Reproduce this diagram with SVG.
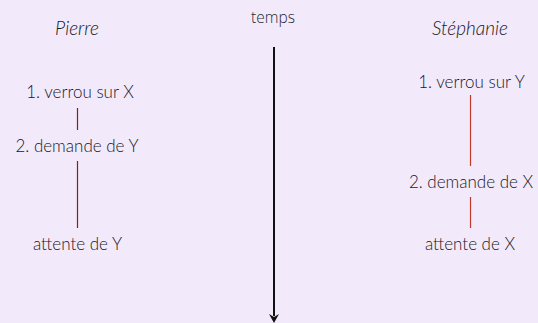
<svg xmlns="http://www.w3.org/2000/svg" width="538" height="323" viewBox="0 0 538 323">
<defs>
<style>
.t{font-family:Lato,"Open Sans","Liberation Sans",sans-serif;font-size:17px;font-weight:300;fill:#1a171e;text-anchor:middle}
.h{font-family:Lato,"Open Sans","Liberation Sans",sans-serif;font-size:19px;font-weight:300;font-style:italic;fill:#1a171e;text-anchor:middle}
.tm{font-family:"Open Sans","Liberation Sans",sans-serif;font-size:15.5px;font-weight:300;fill:#2a282e;text-anchor:middle}
.p{stroke:#8b1a1a;stroke-width:1.2}
.s{stroke:#c0392b;stroke-width:1.2}
</style>
</defs>
<rect width="538" height="323" fill="#f2eafa"/>
<g id="connectors">
<line class="p" x1="77.5" y1="108" x2="77.5" y2="130"/>
<line class="p" x1="77.5" y1="161" x2="77.5" y2="228"/>
<line class="s" x1="470.5" y1="95" x2="470.5" y2="166"/>
<line class="s" x1="470.5" y1="197" x2="470.5" y2="228"/>
<line x1="274" y1="47" x2="274" y2="316" stroke="#111" stroke-width="2"/>
<path d="M269,314 L274,323 L279,314 L274,317 Z" fill="#111"/>
</g>
<g id="pierre"><text class="h" x="77" y="35">Pierre</text></g>
<g id="temps"><text class="tm" x="273" y="23">temps</text></g>
<g id="stephanie"><text class="h" x="470" y="35">Stéphanie</text></g>
<g id="p1"><text class="t" x="80" y="98">1. verrou sur X</text></g>
<g id="p2"><text class="t" x="77" y="152">2. demande de Y</text></g>
<g id="p3"><text class="t" x="77.5" y="250">attente de Y</text></g>
<g id="s1"><text class="t" x="471.5" y="88">1. verrou sur Y</text></g>
<g id="s2"><text class="t" x="471" y="188">2. demande de X</text></g>
<g id="s3"><text class="t" x="470" y="250">attente de X</text></g>
</svg>
